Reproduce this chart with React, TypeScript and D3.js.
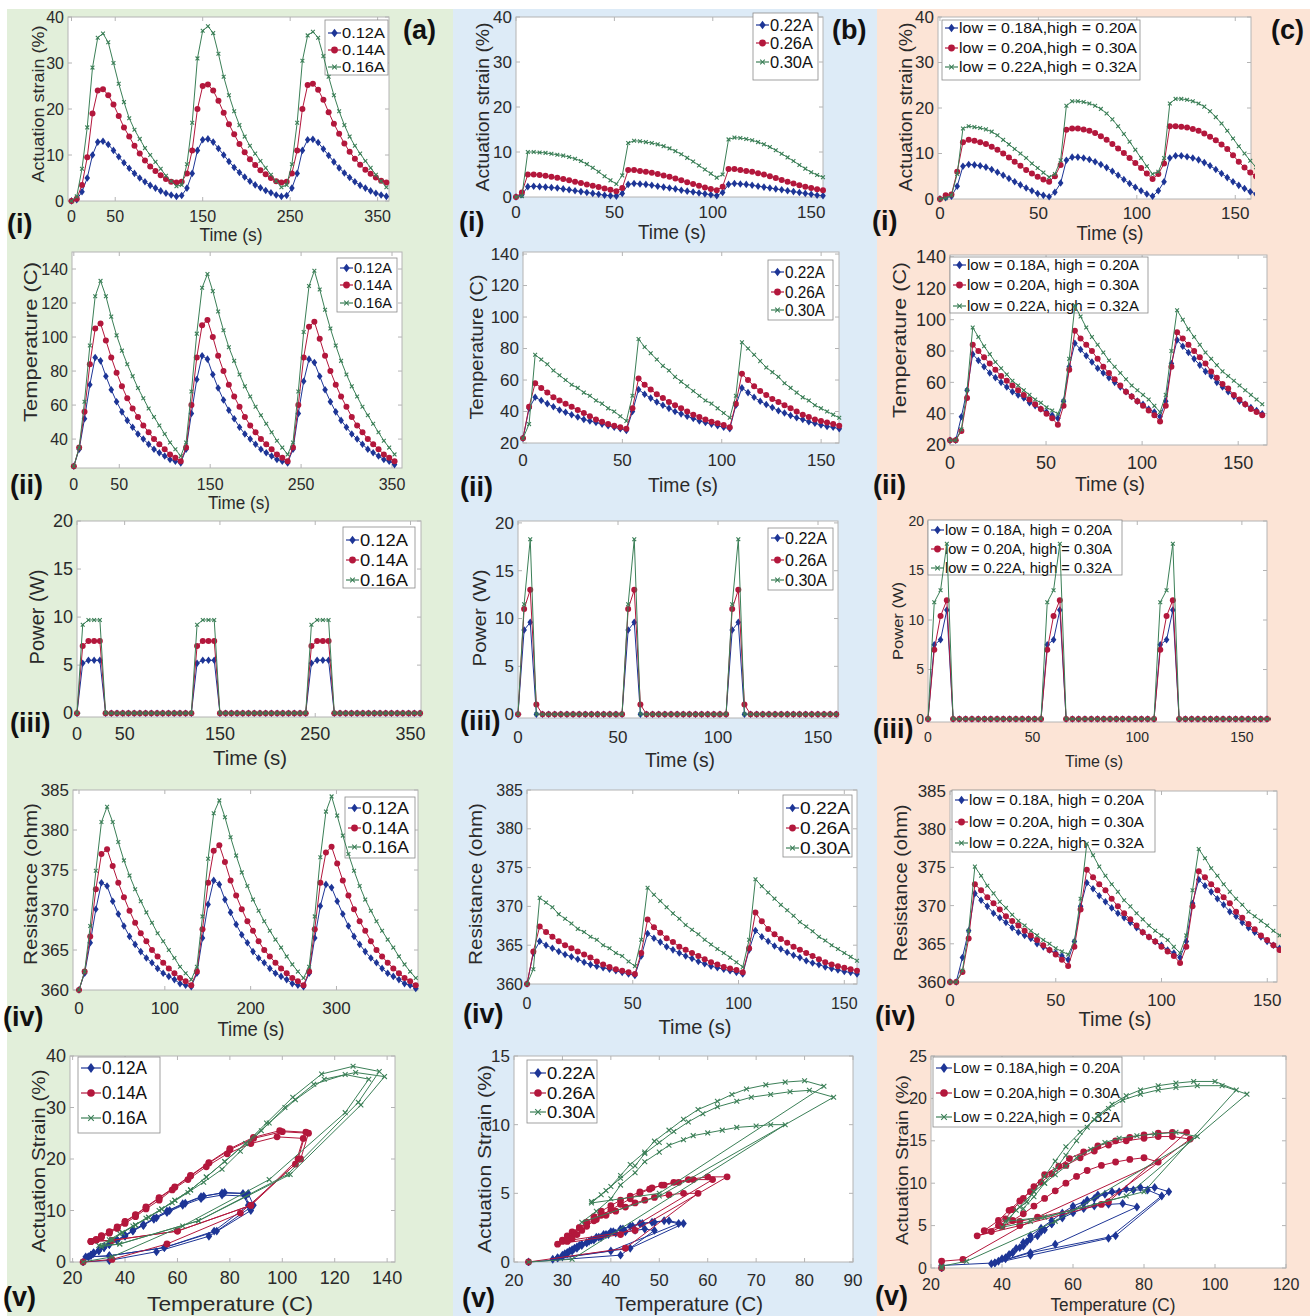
import React from "react";
import * as d3 from "d3";

const FONT = "'Liberation Sans', Arial, Helvetica, sans-serif";
const COLORS = ["#1d3596", "#b3173c", "#3b7f57"];
const FRAME = "#b4b4b4";
const TXT = "#2a2a2a";

// ---------------- Column (a): sampled every 6 s ----------------
const aTime = d3.range(0, 361, 6);
const aStrainBlue = [0,0.3,2,5,10,12.8,13,12.3,11,9.6,8.3,7.1,6,5,4.2,3.4,2.8,2.2,1.7,1.3,
  1,1.2,2.8,6,11,13.3,13.5,12.8,11.4,10,8.6,7.3,6.2,5.2,4.3,3.5,2.9,2.3,1.8,1.3,
  1,1.2,2.8,6,11,13.3,13.4,12.7,11.3,9.9,8.5,7.2,6.1,5.1,4.2,3.4,2.8,2.2,1.7,1.3,1];
const aStrainRed = [0,0.5,3.5,9.5,19,24,24.3,23,21,18.5,16,14,12,10.3,8.8,7.5,6.5,5.6,4.8,4.2,
  4,4.2,6,11,20,25,25.3,24,21.8,19.2,16.7,14.5,12.4,10.6,9.1,7.8,6.7,5.8,5,4.3,
  4,4.2,6,11,20,25.2,25.5,24.2,22,19.3,16.8,14.6,12.5,10.7,9.2,7.9,6.8,5.9,5.1,4.4,4];
const aStrainGreen = [0,1,7,16,29,35.5,36.4,34.5,30,25.5,21.5,18,15.5,13.5,11.5,10,8.5,7,5.5,4.3,
  3.2,3.5,8,17,31,37,38,36.5,32,27,23,19.5,16.5,14,12,10.3,8.7,7.2,5.7,4.3,
  3,3.5,8,17,30.5,36,36.8,35.5,31.5,27,23,19.5,16.5,14,12,10.3,8.7,7.2,5.7,4.3,3];
const aTempBlue = [24,34,52,72,88,86,77,69,62,56,51,47,43,40,37,34,32,30,28,27,
  26,34,55,75,89,87,78,70,63,57,52,47,43,40,37,34,32,30,28,27,
  26,34,55,74,87,85,77,69,62,56,51,47,43,40,37,34,32,30,28,27,25];
const aTempRed = [24,35,56,84,105,108,98,88,79,71,64,58,53,48,44,40,37,34,31,29,
  27,35,60,88,107,110,100,89,80,72,65,59,53,48,44,40,37,34,31,29,
  27,35,60,88,106,109,99,89,80,72,65,59,53,48,44,40,37,34,31,29,27];
const aTempGreen = [24,35,62,95,124,133,124,112,101,92,84,77,70,64,58,53,48,43,38,34,
  30,38,68,102,129,137,127,115,104,94,86,78,71,65,59,54,49,44,39,35,
  31,38,68,103,130,139,128,116,105,95,86,78,71,65,59,54,49,44,39,35,31];
const aPowerBlue = [0,5.2,5.5,5.5,5.5,0,0,0,0,0,0,0,0,0,0,0,0,0,0,0,
  0,5.2,5.5,5.5,5.5,0,0,0,0,0,0,0,0,0,0,0,0,0,0,0,
  0,5.2,5.5,5.5,5.5,0,0,0,0,0,0,0,0,0,0,0,0,0,0,0,0];
const aPowerRed = [0,7,7.5,7.5,7.5,0,0,0,0,0,0,0,0,0,0,0,0,0,0,0,
  0,7,7.5,7.5,7.5,0,0,0,0,0,0,0,0,0,0,0,0,0,0,0,
  0,7,7.5,7.5,7.5,0,0,0,0,0,0,0,0,0,0,0,0,0,0,0,0];
const aPowerGreen = [0,9.2,9.7,9.7,9.7,0,0,0,0,0,0,0,0,0,0,0,0,0,0,0,
  0,9.2,9.7,9.7,9.7,0,0,0,0,0,0,0,0,0,0,0,0,0,0,0,
  0,9.2,9.7,9.7,9.7,0,0,0,0,0,0,0,0,0,0,0,0,0,0,0,0];
const aResBlue = [360,362.1,365.9,370.1,373.4,373,371.1,369.5,368,366.7,365.7,364.8,364,363.4,362.7,362.1,361.7,361.3,360.8,360.6,
  360.4,362.1,366.5,370.7,373.7,373.2,371.3,369.7,368.2,366.9,365.9,364.8,364,363.4,362.7,362.1,361.7,361.3,360.8,360.6,
  360.4,362.1,366.5,370.5,373.2,372.8,371.1,369.5,368,366.7,365.7,364.8,364,363.4,362.7,362.1,361.7,361.3,360.8,360.6,360.2];
const aResRed = [360,362.3,366.7,372.6,377,377.6,375.5,373.4,371.6,369.9,368.4,367.1,366.1,365,364.2,363.4,362.7,362.1,361.5,361.1,
  360.6,362.3,367.6,373.4,377.4,378.1,376,373.7,371.8,370.1,368.6,367.4,366.1,365,364.2,363.4,362.7,362.1,361.5,361.1,
  360.6,362.3,367.6,373.4,377.2,377.9,375.8,373.7,371.8,370.1,368.6,367.4,366.1,365,364.2,363.4,362.7,362.1,361.5,361.1,360.6];
const aResGreen = [360,362.3,368,374.9,381,382.9,381,378.5,376.2,374.3,372.6,371.1,369.7,368.4,367.1,366.1,365,364,362.9,362.1,
  361.3,362.9,369.2,376.4,382.1,383.7,381.6,379.1,376.8,374.7,373,371.3,369.9,368.6,367.4,366.3,365.3,364.2,363.2,362.3,
  361.5,362.9,369.2,376.6,382.3,384.2,381.8,379.3,377,374.9,373,371.3,369.9,368.6,367.4,366.3,365.3,364.2,363.2,362.3,361.5];

// ---------------- Column (b): sampled every 3 s ----------------
const bTime = d3.range(0, 157, 3);
const bStrainBlue = [0,0.5,2.3,2.4,2.3,2.2,2.1,2,1.8,1.6,1.4,1.2,1,0.8,0.6,0.4,0.3,0.2,
  0.8,2.8,3,2.9,2.8,2.6,2.4,2.2,2,1.8,1.5,1.3,1.1,0.9,0.7,0.5,0.3,
  1,2.8,3,2.9,2.8,2.6,2.4,2.2,2,1.8,1.6,1.4,1.2,1,0.8,0.6,0.4,0.3];
const bStrainRed = [0,1,5,5,4.9,4.7,4.5,4.3,4,3.7,3.4,3.1,2.8,2.5,2.2,1.9,1.6,1.3,
  2,6,6,5.8,5.6,5.4,5.1,4.8,4.5,4.1,3.7,3.3,2.9,2.5,2.1,1.8,1.5,
  2.3,6.2,6.2,6,5.8,5.6,5.3,5,4.6,4.2,3.8,3.4,3,2.6,2.3,2,1.7,1.5];
const bStrainGreen = [0,0.2,10,10,9.9,9.8,9.6,9.4,9.2,8.9,8.5,8,7.3,6.5,5.6,4.6,3.7,2.9,
  4.8,12,12.5,12.4,12.2,12,11.7,11.3,10.8,10.2,9.5,8.7,7.9,7,6.1,5.2,4.3,
  5,12.8,13.2,13.1,12.9,12.6,12.2,11.7,11.1,10.4,9.6,8.8,8,7.1,6.3,5.5,4.9,4.4];
const bTempBlue = [23,42,49,47,45,43,41,39.5,38,36.5,35,34,33,32,31,30,29,28,
  40,54,51,48.5,46,44,42,40,38.5,37,35.5,34,33,32,31,30,29,
  44,55,52,49,46.5,44.5,42.5,40.5,39,37.5,36,35,33.5,32.5,31.5,30.5,30,29];
const bTempRed = [23,43,58,55,52,49,47,45,43,41,39,37,35,33.5,32,31,30,29,
  42,61,57,54,51,48.5,46,44,42,40,38,36.5,35,33.5,32.5,31.5,30,
  45,64,60,56,53,50.5,48,46,44,42,40,38,36.5,35,34,33,32,31];
const bTempGreen = [23,32,76,73,70,66,63,60,57,55,52,50,47,45,42,40,37,34,
  50,86,81,77,73,69,66,62,59,56,53,50,47,45,42,39,36,
  50,84,80,76,72,68,65,62,58,55,52,49,47,44,42,40,38,36];
const bPowerBlue = [0,8.8,9.6,0,0,0,0,0,0,0,0,0,0,0,0,0,0,0,
  8.8,9.6,0,0,0,0,0,0,0,0,0,0,0,0,0,0,0,
  8.8,9.6,0,0,0,0,0,0,0,0,0,0,0,0,0,0,0,0];
const bPowerRed = [0,11,13,1,0,0,0,0,0,0,0,0,0,0,0,0,0,0,
  11,13,1,0,0,0,0,0,0,0,0,0,0,0,0,0,0,
  11,13,1,0,0,0,0,0,0,0,0,0,0,0,0,0,0,0];
const bPowerGreen = [0,11.5,18.3,0,0,0,0,0,0,0,0,0,0,0,0,0,0,0,
  11.5,18.3,0,0,0,0,0,0,0,0,0,0,0,0,0,0,0,
  11.5,18.3,0,0,0,0,0,0,0,0,0,0,0,0,0,0,0,0];
const bResBlue = [360,364,365.5,365,364.6,364.2,363.8,363.5,363.2,362.8,362.5,362.3,362.1,361.9,361.7,361.5,361.3,361.1,
  363.6,366.5,365.9,365.4,364.8,364.4,364,363.6,363.3,362.9,362.6,362.3,362.1,361.9,361.7,361.5,361.3,
  364.4,366.9,366.1,365.5,364.9,364.5,364.1,363.7,363.4,363,362.7,362.5,362.2,362,361.8,361.6,361.5,361.3];
const bResRed = [360,364.2,367.4,366.7,366.1,365.5,365,364.6,364.2,363.8,363.4,362.9,362.5,362.2,361.9,361.7,361.5,361.3,
  364,368.3,367.3,366.6,365.9,365.4,364.8,364.4,364,363.6,363.2,362.8,362.5,362.2,362,361.8,361.5,
  364.6,369.2,368.1,367.1,366.4,365.8,365.3,364.8,364.4,364,363.6,363.2,362.8,362.5,362.3,362.1,361.9,361.7];
const bResGreen = [360,361.9,371.1,370.5,369.9,369,368.4,367.8,367.1,366.7,366.1,365.7,365,364.6,364,363.6,362.9,362.3,
  365.7,372.4,371.5,370.7,369.9,369.1,368.4,367.6,367,366.4,365.7,365.1,364.5,364,363.4,362.8,362.2,
  365.7,373.5,372.6,371.8,371,370.2,369.5,368.8,368,367.4,366.8,366.1,365.6,365,364.5,364,363.5,363];

// ---------------- Column (c): sampled every 3 s ----------------
const cTime = d3.range(0, 166, 3);
const cStrainBlue = [0,0.3,0.6,2.8,7.2,7.6,7.5,7.3,7,6.5,5.9,5.2,4.5,3.8,3.1,2.4,1.8,1.2,0.8,0.5,
  1.5,3.5,8.5,9.2,9.2,9,8.7,8.2,7.6,6.9,6.1,5.2,4.3,3.4,2.6,1.8,1.1,0.6,
  1.8,3.8,9,9.5,9.5,9.3,9,8.6,8,7.3,6.5,5.6,4.7,3.8,3,2.3,1.6,1.1];
const cStrainRed = [0,0.8,1,6,12.5,13,12.8,12.5,12.1,11.5,10.8,10,9.1,8.2,7.3,6.4,5.6,4.9,4.3,3.8,
  5,7.5,15.2,15.5,15.5,15.3,15,14.5,13.8,13,12.1,11.1,10.1,9,7.9,6.8,5.6,4.4,
  5.5,7.8,16,16,15.9,15.7,15.4,15,14.4,13.7,12.9,12,11,9.6,8.2,6.9,5.8,5];
const cStrainGreen = [0,0.2,0.8,5.5,15.5,16,15.8,15.6,15.3,14.8,14,13,12,11,10,9,7.8,6.8,5.8,4.8,
  5.5,8.5,20.5,21.5,21.5,21.3,21,20.5,19.8,18.8,17.5,16,14.3,12.6,10.8,9,7.2,5.5,
  6,9,21,22,22,21.8,21.5,21,20.3,19.3,18,16.6,15,13.3,11.6,10,8.4,7];
const cTempBlue = [23,23,38,55,78,74,70,66,63,60,57,54,52,50,47,45,43,41,39,37,
  48,70,85,81,77,73,69,66,63,60,57,54,51,48,46,43,41,38,
  48,72,87,83,79,75,71,67,64,60,57,54,51,48,46,44,42,40];
const cTempRed = [23,23,29,50,84,80,76,72,68,64,61,58,55,52,49,46,43,40,37,33,
  45,68,93,88,84,80,75,70,66,62,58,54,51,48,45,42,39,35,
  45,70,92,88,84,80,76,72,67,63,59,56,52,49,46,43,41,39];
const cTempGreen = [23,23,30,55,95,89,83,78,73,69,65,61,58,55,52,49,47,44,42,40,
  48,75,109,102,95,89,84,79,74,70,66,62,58,55,52,49,45,41,
  52,80,106,100,94,89,84,79,75,71,67,64,61,58,55,52,49,46];
const cPowerBlue = [0,7.5,8,11,0,0,0,0,0,0,0,0,0,0,0,0,0,0,0,
  7.5,8,11,0,0,0,0,0,0,0,0,0,0,0,0,0,0,0,
  7.5,8,11,0,0,0,0,0,0,0,0,0,0,0,0,0,0,0,0];
const cPowerRed = [0,7,10.4,12,0,0,0,0,0,0,0,0,0,0,0,0,0,0,0,
  7,10.4,12,0,0,0,0,0,0,0,0,0,0,0,0,0,0,0,
  7,10.4,12,0,0,0,0,0,0,0,0,0,0,0,0,0,0,0,0];
const cPowerGreen = [0,11.8,13,17.7,0,0,0,0,0,0,0,0,0,0,0,0,0,0,0,
  11.8,13,17.7,0,0,0,0,0,0,0,0,0,0,0,0,0,0,0,
  11.8,13,17.7,0,0,0,0,0,0,0,0,0,0,0,0,0,0,0,0];
const cResBlue = [360,360,363.2,366.7,371.6,370.7,369.9,369,368.4,367.8,367.1,366.5,366.1,365.7,365,364.6,364.2,363.8,363.4,362.9,
  365.3,369.9,373,372.2,371.3,370.5,369.7,369,368.4,367.8,367.1,366.5,365.9,365.3,364.8,364.2,363.8,363.2,
  365.3,370.3,373.4,372.6,371.8,370.9,370.1,369.2,368.6,367.8,367.1,366.5,365.9,365.3,364.8,364.4,364,363.6];
const cResRed = [360,360,361.3,365.7,372.8,372,371.1,370.3,369.5,368.6,368,367.4,366.7,366.1,365.5,364.8,364.2,363.6,362.9,362.1,
  364.6,369.5,374.7,373.7,372.8,372,370.9,369.9,369,368.2,367.4,366.5,365.9,365.3,364.6,364,363.4,362.5,
  364.6,369.9,374.5,373.7,372.8,372,371.1,370.3,369.2,368.4,367.6,366.9,366.1,365.5,364.8,364.2,363.8,363.4];
const cResGreen = [360,360,361.5,366.7,375.1,373.9,372.6,371.6,370.5,369.7,368.8,368,367.4,366.7,366.1,365.5,365,364.4,364,363.6,
  365.3,370.9,378.1,376.6,375.1,373.9,372.8,371.8,370.7,369.9,369,368.2,367.4,366.7,366.1,365.5,364.6,363.8,
  366.1,372,377.4,376.2,374.9,373.9,372.8,371.8,370.9,370.1,369.2,368.6,368,367.4,366.7,366.1,365.5,364.8];

// ---------------- legend labels / ticks ----------------
const labelsA = ["0.12A", "0.14A", "0.16A"];
const labelsB = ["0.22A", "0.26A", "0.30A"];
const labelsC1 = ["low = 0.18A,high = 0.20A", "low = 0.20A,high = 0.30A", "low = 0.22A,high = 0.32A"];
const labelsC = ["low = 0.18A, high = 0.20A", "low = 0.20A, high = 0.30A", "low = 0.22A, high = 0.32A"];
const labelsC5 = ["Low = 0.18A,high = 0.20A", "Low = 0.20A,high = 0.30A", "Low = 0.22A,high = 0.32A"];
const ticksA = [0, 50, 150, 250, 350];
const ticks50 = [0, 50, 100, 150];
const ticksRes = [360, 365, 370, 375, 380, 385];
const ticksTemp = [20, 40, 60, 80, 100, 120, 140];
const ticksPow = [0, 5, 10, 15, 20];
const ticksStrain40 = [0, 10, 20, 30, 40];

type XY = { xs: number[]; ys: number[] };
const timeSeries = (t: number[], k: number, arrs: number[][]): XY[] =>
  arrs.map((a) => ({ xs: a.map((_, i) => t[i] * k), ys: a }));
const loopSeries = (temps: number[][], strains: number[][]): XY[] =>
  temps.map((tt, i) => ({ xs: tt, ys: strains[i] }));

interface Cfg {
  frame: [number, number, number, number];
  xd: [number, number];
  yd: [number, number];
  xt: number[];
  yt: number[];
  tf: number;
  xtd: number;
  xl: [string, number, number, number, number];
  yl: [string, number, number, number, number];
  lg: { box: [number, number, number, number]; ys: number[]; f: number; tw: number; labels: string[]; ll?: number };
  roman: [string, number, number];
  series: XY[];
  big?: boolean;
}

const panels: Cfg[] = [
  // column a
  { frame: [68, 17, 389, 201], xd: [-4, 363], yd: [0, 40], xt: ticksA, yt: ticksStrain40, tf: 16, xtd: 15,
    xl: ["Time (s)", 231, 241, 18, 63], yl: ["Actuation strain (%)", 38, 104, 17, 157],
    lg: { box: [325, 20, 388, 75], ys: [33, 50, 67], f: 14, tw: 43, labels: labelsA }, roman: ["(i)", 7, 233],
    series: timeSeries(aTime, 1, [aStrainBlue, aStrainRed, aStrainGreen]) },
  { frame: [72, 252, 402, 468], xd: [-2, 361], yd: [23, 150], xt: ticksA, yt: [40, 60, 80, 100, 120, 140], tf: 16, xtd: 16,
    xl: ["Time (s)", 239, 509, 18, 62], yl: ["Temperature (C)", 31, 342, 18, 160],
    lg: { box: [337, 258, 397, 312], ys: [268, 285, 303], f: 14, tw: 38, labels: labelsA }, roman: ["(ii)", 10, 494],
    series: timeSeries(aTime, 0.98, [aTempBlue, aTempRed, aTempGreen]) },
  { frame: [77, 521, 421, 717], xd: [0, 361], yd: [-0.4, 20], xt: ticksA, yt: ticksPow, tf: 18, xtd: 17,
    xl: ["Time (s)", 250, 765, 21, 74], yl: ["Power (W)", 37, 617, 20, 95],
    lg: { box: [343, 527, 415, 588], ys: [540, 560, 580], f: 16, tw: 48, labels: labelsA }, roman: ["(iii)", 10, 732],
    series: timeSeries(aTime, 1, [aPowerBlue, aPowerRed, aPowerGreen]) },
  { frame: [73, 790, 418, 990], xd: [-7, 395], yd: [360, 385], xt: [0, 100, 200, 300], yt: ticksRes, tf: 17, xtd: 18,
    xl: ["Time (s)", 251, 1036, 20, 67], yl: ["Resistance (ohm)", 31, 884, 18, 162],
    lg: { box: [345, 797, 415, 858], ys: [808, 828, 847], f: 16, tw: 47, labels: labelsA }, roman: ["(iv)", 3, 1026],
    series: timeSeries(aTime, 1.09, [aResBlue, aResRed, aResGreen]) },
  { frame: [70, 1056, 395, 1262], xd: [19, 143], yd: [0, 40], xt: [20, 40, 60, 80, 100, 120, 140], yt: ticksStrain40, tf: 18, xtd: 16,
    xl: ["Temperature (C)", 230, 1311, 21, 166], yl: ["Actuation Strain (%)", 38, 1161, 19, 183],
    lg: { box: [78, 1057, 160, 1133], ys: [1068, 1093, 1118], f: 18, tw: 45, labels: labelsA, ll: 20 }, roman: ["(v)", 3, 1306],
    series: loopSeries([aTempBlue, aTempRed, aTempGreen], [aStrainBlue, aStrainRed, aStrainGreen]), big: true },
  // column b
  { frame: [516, 17, 823, 197], xd: [0, 156], yd: [0, 40], xt: ticks50, yt: ticksStrain40, tf: 17, xtd: 15,
    xl: ["Time (s)", 672, 239, 20, 68], yl: ["Actuation strain (%)", 483, 107, 18, 169],
    lg: { box: [753, 13, 818, 80], ys: [25, 43, 62], f: 16, tw: 43, labels: labelsB }, roman: ["(i)", 459, 231],
    series: timeSeries(bTime, 1, [bStrainBlue, bStrainRed, bStrainGreen]) },
  { frame: [523, 252, 839, 443], xd: [0, 159], yd: [20, 141.3], xt: ticks50, yt: ticksTemp, tf: 17, xtd: 17,
    xl: ["Time (s)", 683, 492, 20, 70], yl: ["Temperature (C)", 477, 347, 18, 145],
    lg: { box: [768, 260, 833, 320], ys: [272, 292, 310], f: 16, tw: 40, labels: labelsB }, roman: ["(ii)", 460, 496],
    series: timeSeries(bTime, 1.02, [bTempBlue, bTempRed, bTempGreen]) },
  { frame: [518, 521, 838, 718], xd: [0, 160], yd: [-0.4, 20.2], xt: ticks50, yt: ticksPow, tf: 17, xtd: 19,
    xl: ["Time (s)", 680, 767, 20, 70], yl: ["Power (W)", 479, 618, 19, 97],
    lg: { box: [768, 528, 833, 590], ys: [538, 560, 580], f: 16, tw: 42, labels: labelsB }, roman: ["(iii)", 460, 730],
    series: timeSeries(bTime, 1.02, [bPowerBlue, bPowerRed, bPowerGreen]) },
  { frame: [527, 790, 857, 984], xd: [0, 156], yd: [360, 385], xt: ticks50, yt: ticksRes, tf: 16, xtd: 19,
    xl: ["Time (s)", 695, 1034, 21, 73], yl: ["Resistance (ohm)", 476, 884, 18, 162],
    lg: { box: [783, 795, 852, 857], ys: [808, 828, 848], f: 16, tw: 50, labels: labelsB }, roman: ["(iv)", 463, 1023],
    series: timeSeries(bTime, 1, [bResBlue, bResRed, bResGreen]) },
  { frame: [514, 1056, 853, 1262], xd: [20, 90], yd: [0, 15], xt: [20, 30, 40, 50, 60, 70, 80, 90], yt: [0, 5, 10, 15], tf: 17, xtd: 18,
    xl: ["Temperature (C)", 689, 1311, 21, 148], yl: ["Actuation Strain (%)", 484, 1159, 19, 188],
    lg: { box: [527, 1060, 597, 1123], ys: [1073, 1093, 1112], f: 16, tw: 48, labels: labelsB, ll: 16 }, roman: ["(v)", 462, 1307],
    series: loopSeries([bTempBlue, bTempRed, bTempGreen], [bStrainBlue, bStrainRed, bStrainGreen]), big: true },
  // column c
  { frame: [938, 17, 1251, 199], xd: [-1, 158], yd: [0, 40], xt: ticks50, yt: ticksStrain40, tf: 17, xtd: 14,
    xl: ["Time (s)", 1110, 240, 20, 67], yl: ["Actuation strain (%)", 906, 107, 18, 169],
    lg: { box: [942, 20, 1140, 80], ys: [28, 48, 67], f: 15, tw: 178, labels: labelsC1 }, roman: ["(i)", 872, 230],
    series: timeSeries(cTime, 0.973, [cStrainBlue, cStrainRed, cStrainGreen]) },
  { frame: [950, 255, 1267, 445], xd: [0, 165], yd: [20, 141.3], xt: ticks50, yt: ticksTemp, tf: 18, xtd: 18,
    xl: ["Time (s)", 1110, 491, 20, 70], yl: ["Temperature (C)", 900, 340, 18, 156],
    lg: { box: [950, 257, 1148, 313], ys: [265, 285, 306], f: 15, tw: 172, labels: labelsC }, roman: ["(ii)", 873, 494],
    series: timeSeries(cTime, 0.985, [cTempBlue, cTempRed, cTempGreen]) },
  { frame: [928, 521, 1267, 722], xd: [0, 162], yd: [-0.3, 20], xt: ticks50, yt: ticksPow, tf: 14, xtd: 15,
    xl: ["Time (s)", 1094, 767, 17, 58], yl: ["Power (W)", 898, 621, 15, 78],
    lg: { box: [928, 520, 1122, 575], ys: [530, 549, 568], f: 14, tw: 167, labels: labelsC }, roman: ["(iii)", 873, 738],
    series: timeSeries(cTime, 1.0, [cPowerBlue, cPowerRed, cPowerGreen]) },
  { frame: [950, 791, 1277, 982], xd: [0, 154.6], yd: [360, 385], xt: ticks50, yt: ticksRes, tf: 17, xtd: 18,
    xl: ["Time (s)", 1115, 1026, 21, 73], yl: ["Resistance (ohm)", 901, 883, 18, 157],
    lg: { box: [952, 790, 1155, 852], ys: [800, 822, 843], f: 15, tw: 175, labels: labelsC }, roman: ["(iv)", 875, 1025],
    series: timeSeries(cTime, 0.98, [cResBlue, cResRed, cResGreen]) },
  { frame: [931, 1056, 1286, 1268], xd: [20, 120], yd: [0, 25], xt: [20, 40, 60, 80, 100, 120], yt: [0, 5, 10, 15, 20, 25], tf: 16, xtd: 16,
    xl: ["Temperature (C)", 1113, 1311, 18, 125], yl: ["Actuation Strain (%)", 902, 1160, 17, 170],
    lg: { box: [933, 1057, 1122, 1127], ys: [1068, 1093, 1117], f: 15, tw: 167, labels: labelsC5, ll: 16 }, roman: ["(v)", 875, 1305],
    series: loopSeries([cTempBlue, cTempRed, cTempGreen], [cStrainBlue, cStrainRed, cStrainGreen]), big: true },
];

function Marker({ kind, x, y, s, color }: { kind: number; x: number; y: number; s: number; color: string }) {
  if (kind === 0)
    return <path d={`M${x},${y - s * 1.35}L${x + s},${y}L${x},${y + s * 1.35}L${x - s},${y}Z`} fill={color} />;
  if (kind === 1) return <circle cx={x} cy={y} r={s} fill={color} />;
  return (
    <path d={`M${x - s},${y - s}L${x + s},${y + s}M${x - s},${y + s}L${x + s},${y - s}`} stroke={color} strokeWidth={1.1} fill="none" />
  );
}

function Panel({ p, id }: { p: Cfg; id: number }) {
  const [l, t, r, b] = p.frame;
  const x = d3.scaleLinear().domain(p.xd).range([l, r]);
  const y = d3.scaleLinear().domain(p.yd).range([b, t]);
  const line = d3.line<number>();
  const ms = p.big ? [3.3, 3.4, 2.4] : [2.8, 3.0, 1.9];
  const tl = 4;
  const [bx0, by0, bx1, by1] = p.lg.box;
  const ll = p.lg.ll ?? 13;
  return (
    <g>
      <defs>
        <clipPath id={`clip${id}`}>
          <rect x={l - 4} y={t - 4} width={r - l + 8} height={b - t + 8} />
        </clipPath>
      </defs>
      <rect x={l} y={t} width={r - l} height={b - t} fill="#fff" />
      {p.xt.map((v) => (
        <g key={`xt${v}`}>
          <line x1={x(v)} x2={x(v)} y1={b} y2={b - tl} stroke={FRAME} />
          <line x1={x(v)} x2={x(v)} y1={t} y2={t + tl} stroke={FRAME} />
          <text x={x(v)} y={b + p.xtd} dy="0.35em" textAnchor="middle" fontSize={p.tf} fill={TXT} fontFamily={FONT}>
            {v}
          </text>
        </g>
      ))}
      {p.yt.map((v) => (
        <g key={`yt${v}`}>
          <line x1={l} x2={l + tl} y1={y(v)} y2={y(v)} stroke={FRAME} />
          <line x1={r} x2={r - tl} y1={y(v)} y2={y(v)} stroke={FRAME} />
          <text x={l - 4} y={y(v)} dy="0.35em" textAnchor="end" fontSize={p.tf} fill={TXT} fontFamily={FONT}>
            {v}
          </text>
        </g>
      ))}
      <rect x={l} y={t} width={r - l} height={b - t} fill="none" stroke={FRAME} strokeWidth={1} />
      <text x={p.xl[1]} y={p.xl[2]} textAnchor="middle" fontSize={p.xl[3]} fill={TXT} fontFamily={FONT}
        textLength={p.xl[4]} lengthAdjust="spacingAndGlyphs">
        {p.xl[0]}
      </text>
      <text transform={`translate(${p.yl[1]},${p.yl[2]}) rotate(-90)`} textAnchor="middle" dy="0.35em"
        fontSize={p.yl[3]} fill={TXT} fontFamily={FONT} textLength={p.yl[4]} lengthAdjust="spacingAndGlyphs">
        {p.yl[0]}
      </text>
      <rect x={bx0} y={by0} width={bx1 - bx0} height={by1 - by0} fill="#fff" stroke="#8a8a8a" strokeWidth={0.8} />
      {p.lg.labels.map((lab, i) => (
        <g key={`lg${i}`}>
          <line x1={bx0 + 3} x2={bx0 + 3 + ll} y1={p.lg.ys[i]} y2={p.lg.ys[i]} stroke={COLORS[i]} strokeWidth={1.2} />
          <Marker kind={i} x={bx0 + 3 + ll / 2} y={p.lg.ys[i]} s={ms[i] + 0.4} color={COLORS[i]} />
          <text x={bx0 + 4 + ll} y={p.lg.ys[i]} dy="0.35em" fontSize={p.lg.f} fill="#111" fontFamily={FONT}
            textLength={p.lg.tw} lengthAdjust="spacingAndGlyphs">
            {lab}
          </text>
        </g>
      ))}
      <g clipPath={`url(#clip${id})`}>
        {p.series.map((s, si) => {
          const pts: [number, number][] = s.xs.map((xv, i) => [x(xv), y(s.ys[i])]);
          return (
            <g key={`s${si}`}>
              <path d={line(pts as any) || ""} fill="none" stroke={COLORS[si]} strokeWidth={1} />
              {pts.map((pt, i) => (
                <Marker key={i} kind={si} x={pt[0]} y={pt[1]} s={ms[si]} color={COLORS[si]} />
              ))}
            </g>
          );
        })}
      </g>
      <text x={p.roman[1]} y={p.roman[2]} fontSize={27} fontWeight="bold" fill="#111" fontFamily={FONT}>
        {p.roman[0]}
      </text>
    </g>
  );
}

export default function App() {
  return (
    <svg width={1310} height={1316} viewBox="0 0 1310 1316"
      style={{ position: "absolute", left: 0, top: 0, background: "#fff" }}>
      <rect x={0} y={0} width={1310} height={1316} fill="#fff" />
      <rect x={7} y={9} width={446} height={1307} fill="#e2efda" />
      <rect x={453} y={9} width={424} height={1307} fill="#ddebf7" />
      <rect x={877} y={9} width={433} height={1307} fill="#fce4d6" />
      {panels.map((p, i) => (
        <Panel key={i} p={p} id={i} />
      ))}
      <text x={403} y={39} fontSize={27} fontWeight="bold" fill="#111" fontFamily={FONT}>(a)</text>
      <text x={832} y={39} fontSize={27} fontWeight="bold" fill="#111" fontFamily={FONT}>(b)</text>
      <text x={1271} y={39} fontSize={27} fontWeight="bold" fill="#111" fontFamily={FONT}>(c)</text>
    </svg>
  );
}
